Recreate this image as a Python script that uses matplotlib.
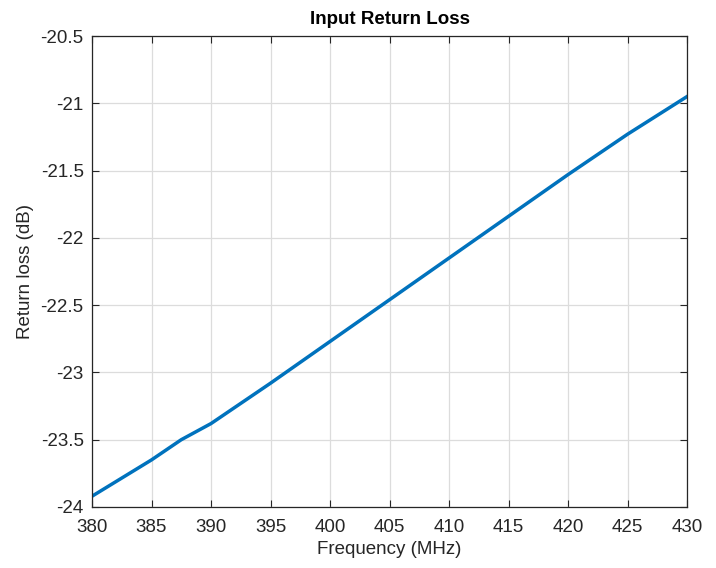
import matplotlib
matplotlib.use('Agg')
import matplotlib.pyplot as plt
import numpy as np

# Input return loss vs frequency
freq_mhz = [380, 385, 387.5, 390, 395, 400, 405, 410, 415, 420, 425, 430]
return_loss_db = [-23.92, -23.65, -23.50, -23.38, -23.08, -22.77, -22.46,
                  -22.15, -21.84, -21.53, -21.23, -20.95]

x_ticks = [380, 385, 390, 395, 400, 405, 410, 415, 420, 425, 430]
y_ticks = [-24, -23.5, -23, -22.5, -22, -21.5, -21, -20.5]
y_tick_labels = ['-24', '-23.5', '-23', '-22.5', '-22', '-21.5', '-21', '-20.5']

plt.rcParams['font.family'] = ['Liberation Sans', 'DejaVu Sans']

fig = plt.figure(figsize=(7.16, 5.68), dpi=100)
ax = fig.add_axes([0.1285, 0.1074, 0.831, 0.8292])

ax.plot(freq_mhz, return_loss_db, color='#0072BD', linewidth=2.5)

ax.set_xlim(380, 430)
ax.set_ylim(-24, -20.5)
ax.set_xticks(x_ticks)
ax.set_yticks(y_ticks)
ax.set_yticklabels(y_tick_labels)

ax.grid(True, color='#dcdcdc', linewidth=0.9)
ax.set_axisbelow(True)
ax.tick_params(direction='in', top=True, right=True, length=5, width=0.8,
               colors='#262626', labelsize=13.5)
ax.tick_params(axis='x', pad=9)
ax.tick_params(axis='y', pad=6)
for s in ax.spines.values():
    s.set_color('#262626')
    s.set_linewidth(0.9)

ax.set_xlabel('Frequency (MHz)', fontsize=13.5, color='#262626', labelpad=3)
ax.set_ylabel('Return loss (dB)', fontsize=13.5, color='#262626', labelpad=5)
ax.set_title('Input Return Loss', fontsize=13.5, fontweight='bold', pad=9)

fig.savefig('out.png', dpi=100, facecolor='white')
